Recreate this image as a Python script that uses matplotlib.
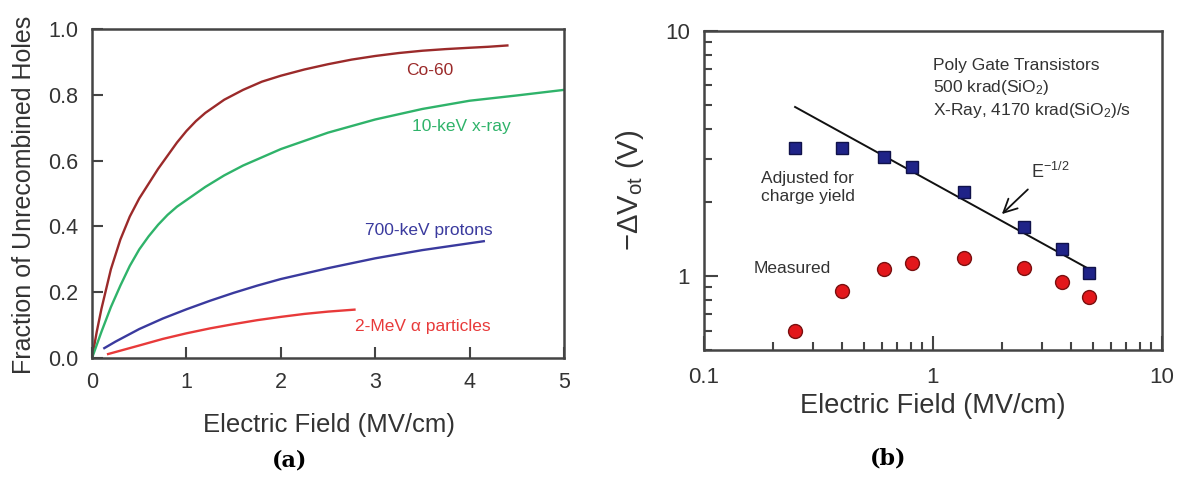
import matplotlib.pyplot as plt
import numpy as np

plt.rcParams['font.family'] = ['Liberation Sans', 'DejaVu Sans']
plt.rcParams['mathtext.fontset'] = 'custom'
plt.rcParams['mathtext.rm'] = 'Liberation Sans'
plt.rcParams['mathtext.it'] = 'Liberation Sans:italic'

# (a) fraction of unrecombined holes vs field
co60_x = [0, 0.05, 0.1, 0.2, 0.3, 0.4, 0.5, 0.6, 0.7, 0.8, 0.9, 1.0, 1.1, 1.2, 1.4, 1.6, 1.8,
          2.0, 2.25, 2.5, 2.75, 3.0, 3.25, 3.5, 3.75, 4.0, 4.2, 4.4]
co60_y = [0, 0.08, 0.15, 0.27, 0.36, 0.43, 0.485, 0.53, 0.575, 0.615, 0.655, 0.69, 0.72, 0.745,
          0.785, 0.815, 0.84, 0.858, 0.877, 0.893, 0.907, 0.918, 0.927, 0.934, 0.939, 0.943, 0.946, 0.95]
xray_x = [0, 0.05, 0.1, 0.2, 0.3, 0.4, 0.5, 0.6, 0.7, 0.8, 0.9, 1.0, 1.2, 1.4, 1.6, 1.8, 2.0,
          2.25, 2.5, 2.75, 3.0, 3.5, 4.0, 4.5, 5.0]
xray_y = [0, 0.04, 0.08, 0.155, 0.22, 0.28, 0.33, 0.37, 0.405, 0.435, 0.46, 0.48, 0.52, 0.555,
          0.585, 0.61, 0.635, 0.66, 0.685, 0.705, 0.725, 0.757, 0.782, 0.798, 0.815]
prot_x = [0.13, 0.25, 0.5, 0.75, 1.0, 1.25, 1.5, 1.75, 2.0, 2.5, 3.0, 3.5, 4.15]
prot_y = [0.03, 0.05, 0.088, 0.12, 0.148, 0.174, 0.198, 0.22, 0.24, 0.273, 0.303, 0.328, 0.355]
alpha_x = [0.17, 0.5, 0.75, 1.0, 1.25, 1.5, 1.75, 2.0, 2.25, 2.5, 2.78]
alpha_y = [0.012, 0.038, 0.058, 0.075, 0.09, 0.103, 0.115, 0.125, 0.134, 0.141, 0.147]

# (b) oxide trapped charge shift vs field
field = [0.25, 0.40, 0.61, 0.81, 1.37, 2.5, 3.66, 4.8]
adjusted = [3.33, 3.33, 3.06, 2.79, 2.2, 1.58, 1.29, 1.03]
measured = [0.60, 0.87, 1.07, 1.13, 1.19, 1.08, 0.95, 0.82]
fit_x = [0.25, 4.8]
fit_y = [4.9, 1.07]

fig = plt.figure(figsize=(11.77, 4.9), dpi=100)
grey = '#333333'
edge = '#444444'

# ---- panel (a)
ax1 = fig.add_axes([0.0782, 0.2694, 0.401, 0.6714])
ax1.plot(co60_x, co60_y, color='#9b2a2a', lw=1.7)
ax1.plot(xray_x, xray_y, color='#2fb36a', lw=1.7)
ax1.plot(prot_x, prot_y, color='#3a3a9e', lw=1.7)
ax1.plot(alpha_x, alpha_y, color='#e83a3a', lw=1.7)
ax1.text(3.58, 0.875, 'Co-60', color='#9b2a2a', fontsize=12.5, ha='center', va='center')
ax1.text(3.91, 0.705, '10-keV x-ray', color='#2fb36a', fontsize=12.5, ha='center', va='center')
ax1.text(3.57, 0.389, '700-keV protons', color='#3a3a9e', fontsize=12.5, ha='center', va='center')
ax1.text(3.50, 0.097, '2-MeV α particles', color='#e83a3a', fontsize=12.5, ha='center', va='center')
ax1.set_xlim(0, 5)
ax1.set_ylim(0, 1.0)
ax1.set_xticks([0, 1, 2, 3, 4, 5])
ax1.set_yticks([0, 0.2, 0.4, 0.6, 0.8, 1.0])
ax1.set_yticklabels(['0.0', '0.2', '0.4', '0.6', '0.8', '1.0'])
ax1.tick_params(direction='in', length=8, width=1.5, color=edge, labelsize=15.5,
                labelcolor=grey, pad=10)
ax1.set_xlabel('Electric Field (MV/cm)', fontsize=18.5, color=grey)
ax1.set_ylabel('Fraction of Unrecombined Holes', fontsize=18, color=grey)
ax1.xaxis.set_label_coords(0.502, -0.168)
ax1.yaxis.set_label_coords(-0.118, 0.495)
for s in ax1.spines.values():
    s.set_linewidth(1.8)
    s.set_color(edge)

# ---- panel (b)
ax2 = fig.add_axes([0.5981, 0.2857, 0.3891, 0.6510])
ax2.set_xscale('log')
ax2.set_yscale('log')
ax2.plot(fit_x, fit_y, color='#111111', lw=1.4)
ax2.plot(field, adjusted, 's', color='#1f2388', markeredgecolor='#10124a', markersize=9)
ax2.plot(field, measured, 'o', color='#e3171b', markeredgecolor='#7a1010', markersize=10)
ax2.annotate('', xy=(1.96, 1.76), xytext=(2.65, 2.3),
             arrowprops=dict(arrowstyle='->', color='#111111', lw=1.3, mutation_scale=24))
ax2.text(2.68, 2.65, r'E$^{-1/2}$', fontsize=13, color=grey, ha='left', va='center')
ax2.text(0.996, 7.2, 'Poly Gate Transistors', fontsize=12.5, color=grey, ha='left', va='center')
ax2.text(0.996, 5.9, r'500 krad(SiO$_2$)', fontsize=12.5, color=grey, ha='left', va='center')
ax2.text(0.996, 4.75, r'X-Ray, 4170 krad(SiO$_2$)/s', fontsize=12.5, color=grey, ha='left', va='center')
ax2.text(0.177, 2.3, 'Adjusted for\ncharge yield', fontsize=12.5, color=grey, ha='left', va='center',
         linespacing=1.3)
ax2.text(0.164, 1.08, 'Measured', fontsize=12.5, color=grey, ha='left', va='center')
ax2.set_xlim(0.1, 10)
ax2.set_ylim(0.5, 10)
ax2.set_xticks([0.1, 1, 10])
ax2.set_xticklabels(['0.1', '1', '10'])
ax2.set_yticks([1, 10])
ax2.set_yticklabels(['1', '10'])
ax2.tick_params(which='major', direction='in', length=10, width=1.5, color=edge,
                labelsize=16, labelcolor=grey, pad=12)
ax2.tick_params(which='minor', direction='in', length=6, width=1.5, color=edge)
ax2.tick_params(axis='y', which='major', pad=10)
ax2.yaxis.set_minor_formatter(plt.NullFormatter())
ax2.xaxis.set_minor_formatter(plt.NullFormatter())
ax2.set_xlabel('Electric Field (MV/cm)', fontsize=19.5, color=grey)
ax2.set_ylabel(r'$-\Delta$V$_{\rm ot}$ (V)', fontsize=21, color=grey)
ax2.xaxis.set_label_coords(0.5, -0.135)
ax2.yaxis.set_label_coords(-0.127, 0.5)
for s in ax2.spines.values():
    s.set_linewidth(1.8)
    s.set_color(edge)

fig.text(0.2464, 0.061, '(a)', fontsize=16, fontweight='bold', family='DejaVu Serif',
         ha='center', va='center')
fig.text(0.7545, 0.065, '(b)', fontsize=16, fontweight='bold', family='DejaVu Serif',
         ha='center', va='center')

fig.savefig('out.png', dpi=100)
